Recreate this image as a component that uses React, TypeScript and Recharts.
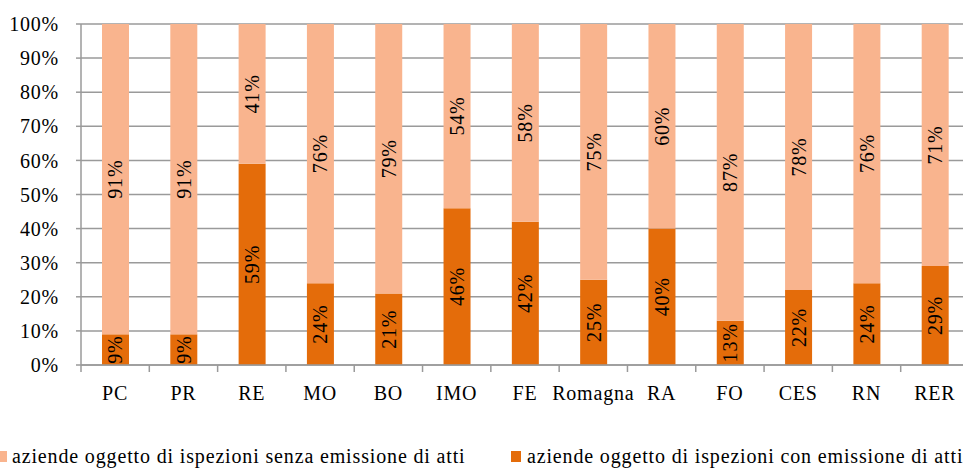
import React from 'react';
import { BarChart, Bar, XAxis, YAxis, CartesianGrid, LabelList, Legend } from 'recharts';

const CATEGORIES = ['PC', 'PR', 'RE', 'MO', 'BO', 'IMO', 'FE', 'Romagna', 'RA', 'FO', 'CES', 'RN', 'RER'];
const CON_ATTI = [9, 9, 59, 24, 21, 46, 42, 25, 40, 13, 22, 24, 29];
const SENZA_ATTI = [91, 91, 41, 76, 79, 54, 58, 75, 60, 87, 78, 76, 71];
const Y_TICKS = [0, 10, 20, 30, 40, 50, 60, 70, 80, 90, 100];

const LABEL_SENZA = 'aziende oggetto di ispezioni senza emissione di atti';
const LABEL_CON = 'aziende oggetto di ispezioni con emissione di atti';

const data = CATEGORIES.map((name, i) => ({ name, con: CON_ATTI[i], senza: SENZA_ATTI[i] }));

const FONT = 'Liberation Serif, DejaVu Serif, Times New Roman, serif';
const SPACING = 0.8;
const DARK = '#E46C0A';
const LIGHT = '#F9B48E';
const GRID = '#9a9a9a';
const PLOT_W = 888;
const BAND = PLOT_W / CATEGORIES.length;

const VerticalLabel = (props: any) => {
  const { x, y, width, height, value } = props;
  const cx = x + width / 2;
  const cy = y + height / 2;
  return (
    <text
      x={cx}
      y={cy}
      transform={`rotate(-90 ${cx} ${cy})`}
      textAnchor="middle"
      dominantBaseline="central"
      style={{ fontFamily: FONT, letterSpacing: SPACING }}
      fontSize={20}
      fill="#000"
    >
      {value}%
    </text>
  );
};

const XTick = (props: any) => {
  const { x, y, payload } = props;
  const bx = x - BAND / 2;
  return (
    <g>
      <line x1={bx} y1={y} x2={bx} y2={y + 7} stroke={GRID} strokeWidth={1.5} />
      <text
        x={x}
        y={y + 35}
        textAnchor="middle"
        style={{ fontFamily: FONT, letterSpacing: SPACING }}
        fontSize={20}
        fill="#000"
      >
        {payload.value}
      </text>
    </g>
  );
};

const LegendContent = () => (
  <div style={{ position: 'relative', width: 963, height: 28, fontFamily: FONT, fontSize: 20, color: '#000', letterSpacing: 0.85 }}>
    <div style={{ position: 'absolute', left: -4, top: 8, width: 11, height: 11, background: LIGHT }} />
    <div style={{ position: 'absolute', left: 12, top: 2, whiteSpace: 'nowrap' }}>{LABEL_SENZA}</div>
    <div style={{ position: 'absolute', left: 511, top: 8, width: 10, height: 11, background: DARK }} />
    <div style={{ position: 'absolute', left: 527, top: 2, whiteSpace: 'nowrap' }}>{LABEL_CON}</div>
  </div>
);

export default function App() {
  return (
    <div style={{ position: 'absolute', left: 0, top: 0, width: 963, height: 468, overflow: 'hidden', background: '#fff', fontFamily: FONT }}>
      <BarChart
        width={81 + PLOT_W}
        height={468}
        data={data}
        margin={{ top: 24, right: 0, left: 0, bottom: 0 }}
        style={{ fontFamily: FONT }}
      >
        <CartesianGrid vertical={false} stroke={GRID} strokeWidth={1.5} />
        <XAxis
          dataKey="name"
          height={103}
          tick={<XTick />}
          tickLine={false}
          tickSize={0}
          tickMargin={0}
          axisLine={{ stroke: GRID, strokeWidth: 1.5 }}
          interval={0}
        />
        <YAxis
          width={81}
          domain={[0, 100]}
          ticks={Y_TICKS}
          tickFormatter={(v: number) => `${v}%`}
          tick={{ fontFamily: FONT, fontSize: 20, fill: '#000', style: { letterSpacing: SPACING } }}
          tickSize={5}
          tickMargin={17}
          tickLine={{ stroke: GRID, strokeWidth: 1.5 }}
          axisLine={{ stroke: GRID, strokeWidth: 1.5 }}
          interval={0}
        />
        <Legend
          verticalAlign="middle"
          align="center"
          layout="horizontal"
          content={<LegendContent />}
          wrapperStyle={{ position: 'absolute', left: 0, top: 443, width: 963, height: 28 }}
        />
        <Bar dataKey="con" name={LABEL_CON} stackId="a" fill={DARK} barSize={27} isAnimationActive={false}>
          <LabelList dataKey="con" content={<VerticalLabel />} />
        </Bar>
        <Bar dataKey="senza" name={LABEL_SENZA} stackId="a" fill={LIGHT} barSize={27} isAnimationActive={false}>
          <LabelList dataKey="senza" content={<VerticalLabel />} />
        </Bar>
      </BarChart>
    </div>
  );
}
